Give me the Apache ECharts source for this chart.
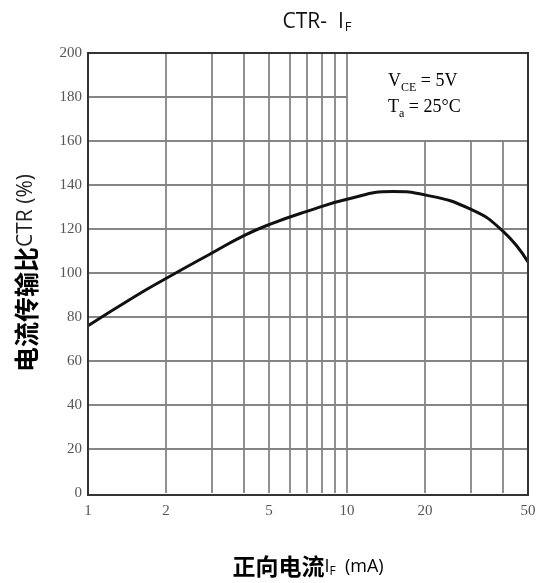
<!DOCTYPE html>
<html>
<head>
<meta charset="utf-8">
<script src="https://cdn.jsdelivr.net/npm/echarts@6/dist/echarts.min.js"></script>
<style>
html, body { margin: 0; padding: 0; background: #fff; }
#main { width: 549px; height: 583px; }
</style>
</head>
<body>
<div id="main"></div>
<script>
// CTR vs IF curve
var ifValues = [1, 1.5, 2, 3, 4, 5, 7, 10, 15, 20, 30, 40, 50];
var ctrValues = [76, 89, 97.5, 109, 117, 122, 128, 133.5, 137, 135.5, 129, 119, 105];

var xLabels = [1, 2, 5, 10, 20, 50];
var xGridFull = [2, 3, 4, 5, 6, 7, 8, 9, 10];
var xGridShort = [20, 30, 40];       // stop under the condition box
var yGridFull = [20, 40, 60, 80, 100, 120, 140, 160];
var yGridShort = [180];              // stops at IF = 10

var curve = ifValues.map(function (v, i) { return [v, ctrValues[i]]; });

var gridLines = [];
xGridFull.forEach(function (x) { gridLines.push([{ coord: [x, 0] }, { coord: [x, 200] }]); });
xGridShort.forEach(function (x) { gridLines.push([{ coord: [x, 0] }, { coord: [x, 160] }]); });
yGridFull.forEach(function (y) { gridLines.push([{ coord: [1, y] }, { coord: [50, y] }]); });
yGridShort.forEach(function (y) { gridLines.push([{ coord: [1, y] }, { coord: [10, y] }]); });

var chart = echarts.init(document.getElementById('main'));
var option = {
    animation: false,
    title: {
        text: '{n|CTR-  I}{s|F}',
        left: 312,
        top: 6,
        textAlign: 'center',
        textStyle: {
            fontWeight: 'normal',
            rich: {
                n: { fontFamily: 'Open Sans', fontWeight: 'normal', fontSize: 21, color: '#111' },
                s: { fontFamily: 'Open Sans', fontWeight: 'normal', fontSize: 13, color: '#111', verticalAlign: 'bottom', padding: [10, 0, 0, 1] }
            }
        }
    },
    grid: { left: 88, right: 21, top: 53, bottom: 88 },
    xAxis: {
        type: 'log',
        logBase: 10,
        min: 1,
        max: 50,
        name: '{b|正向电流}{n|I}{s|F}{n|  (mA)}',
        nameLocation: 'middle',
        nameGap: 62,
        nameTextStyle: {
            rich: {
                b: { fontFamily: 'Noto Sans CJK SC', fontWeight: 'bold', fontSize: 23, color: '#000' },
                n: { fontFamily: 'Open Sans', fontSize: 18, color: '#000' },
                s: { fontFamily: 'Open Sans', fontSize: 12, color: '#000', verticalAlign: 'bottom', padding: [10, 0, 0, 0] }
            }
        },
        axisLine: { show: false },
        axisTick: { show: false, customValues: xLabels },
        axisLabel: {
            customValues: xLabels,
            margin: 11,
            fontFamily: 'Liberation Serif',
            fontSize: 15,
            color: '#555'
        },
        splitLine: { show: false },
        minorSplitLine: { show: false }
    },
    yAxis: {
        type: 'value',
        min: 0,
        max: 200,
        interval: 20,
        name: '{b|电流传输比}{n|CTR (%)}',
        nameLocation: 'middle',
        nameGap: 49,
        nameRotate: 90,
        nameTextStyle: {
            rich: {
                b: { fontFamily: 'Noto Sans CJK SC', fontWeight: 'bold', fontSize: 25, color: '#000' },
                n: { fontFamily: 'Open Sans', fontSize: 21, color: '#222' }
            }
        },
        axisLine: { show: false },
        axisTick: { show: false },
        axisLabel: {
            margin: 6,
            fontFamily: 'Liberation Serif',
            fontSize: 15,
            color: '#555'
        },
        splitLine: { show: false }
    },
    graphic: [
        {
            type: 'rect',
            shape: { x: 88, y: 53, width: 440, height: 442 },
            style: { fill: 'none', stroke: '#333', lineWidth: 2 },
            z: 10
        },
        {
            type: 'text',
            left: 388,
            top: 72,
            style: {
                text: '{n|V}{s|CE}{n| = 5V}\n{n|T}{s|a}{n| = 25°C}',
                rich: {
                    n: { fontFamily: 'Liberation Serif', fontSize: 18, color: '#777', lineHeight: 26 },
                    s: { fontFamily: 'Liberation Serif', fontSize: 12, color: '#777', verticalAlign: 'bottom', padding: [8, 0, 0, 0], lineHeight: 26 }
                }
            }
        }
    ],
    series: [
        {
            type: 'line',
            data: curve,
            smooth: 0.5,
            symbol: 'none',
            lineStyle: { color: '#111', width: 3 },
            z: 5,
            markLine: {
                silent: true,
                symbol: 'none',
                label: { show: false },
                lineStyle: { color: '#858585', width: 1.8, type: 'solid' },
                data: gridLines
            }
        }
    ]
};
chart.setOption(option);
</script>
</body>
</html>
